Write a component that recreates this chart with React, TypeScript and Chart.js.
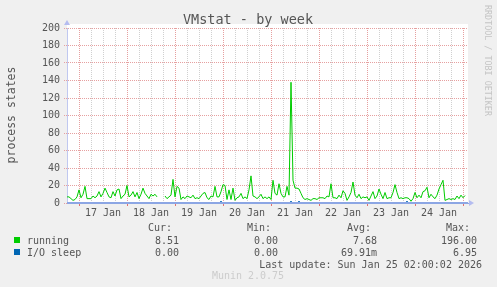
import { useEffect, useRef } from 'react';
import { Chart, registerables } from 'chart.js';

Chart.register(...registerables);

const TITLE = 'VMstat - by week';
const Y_LABEL = 'process states';
const SIDE_TEXT = 'RRDTOOL / TOBI OETIKER';
const FOOTER = 'Munin 2.0.75';
const LAST_UPDATE = 'Last update: Sun Jan 25 02:00:02 2026';

// x axis: hours since Jan 16 18:00; midnights at 6, 30, 54 ...; labels at noon
const DAY_LABELS = ['17 Jan', '18 Jan', '19 Jan', '20 Jan', '21 Jan', '22 Jan', '23 Jan', '24 Jan'];
const Y_TICKS_MAX = 200;

// hourly samples, running processes
const RUNNING: (number | null)[] = [
  7, 7, 5, 3, 4, 7, 15, 6, 10, 19,
  5, 5, 5, 8, 6, 8, 13, 7, 11, 17,
  12, 7, 6, 13, 8, 15, 16, 5, 8, 10,
  20, 7, 9, 13, 7, 12, 5, 10, 17, 11,
  8, 5, 10, 8, 10, 7, null, null, null, 8,
  5, 7, 9, 27, 7, 19, 17, 4, 7, 5,
  8, 7, 6, 9, 5, 6, 5, 8, 11, 12,
  6, 4, 8, 7, 19, 7, 7, 13, 21, 20,
  4, 15, 4, 17, 3, 6, 7, 11, 5, 7,
  5, 15, 31, 8, 7, 5, 7, 10, 5, 7,
  5, 7, 4, 26, 11, 9, 22, 11, 7, 7,
  19, 9, 138, 26, 17, 17, 16, 11, 6, 4,
  5, 4, 3, 5, 5, 4, 6, 6, 6, 5,
  8, 7, 22, 6, 6, 5, 9, 6, 14, 11,
  3, 7, 12, 24, 9, 6, 10, 5, 7, 6,
  7, 3, 8, 13, 5, 8, 16, 10, 5, 12,
  5, 6, 6, 12, 21, 12, 5, 6, 5, 6,
  6, 5, 2, 5, 12, 6, 9, 6, 13, 14,
  18, 6, 10, 7, 5, 9, 16, 21, 26, 3,
  4, 5, 4, 5, 4, 8, 5, 9, 6, 8.51,
];

// hourly samples, processes in I/O sleep
const IO_SLEEP: (number | null)[] = [
  0, 0, 0, 0, 0, 0, 0, 0, 0, 0,
  0, 0, 0, 0, 0, 0, 0, 0, 0, 0,
  0, 0, 0, 0, 0, 0, 0, 0, 0, 0,
  0, 0, 0, 0, 0, 0, 0, 0, 0, 0,
  0, 0, 0, 0, 0, 0, null, null, null, 0,
  0, 0, 0, 0, 0, 0, 0, 0, 0, 0,
  0, 0, 0, 0, 0, 0, 0, 0, 0, 0,
  0, 0, 0, 0, 0, 0, 0, 2, 0, 0,
  0, 0, 0, 0, 0, 0, 0, 0, 0, 0,
  0, 0, 0, 0, 0, 0, 0, 0, 0, 0,
  0, 0, 0, 0, 0, 0, 0, 0, 0, 0,
  0, 0, 2, 0, 0, 0, 2, 0, 0, 0,
  0, 0, 0, 0, 0, 0, 0, 0, 0, 0,
  0, 0, 0, 0, 0, 0, 0, 0, 0, 0,
  0, 0, 0, 0, 0, 0, 0, 0, 0, 0,
  0, 0, 0, 0, 0, 0, 0, 0, 0, 0,
  0, 0, 0, 0, 0, 0, 0, 0, 0, 0,
  2, 0, 0, 0, 0, 0, 0, 0, 0, 0,
  0, 0, 0, 0, 0, 0, 0, 0, 0, 0,
  0, 0, 0, 0, 0, 0, 0, 0, 0, 0,
];

const HOURS = RUNNING.map((_, i) => i);

const SERIES_NAMES = ['running', 'I/O sleep'];
const SERIES_COLORS = ['#00cc00', '#0066b3'];
const LEGEND_HEAD = ['Cur:', 'Min:', 'Avg:', 'Max:'];
const LEGEND_VALUES = [
  ['8.51', '0.00', '7.68', '196.00'],
  ['0.00', '0.00', '69.91m', '6.95'],
];

const MONO = '"DejaVu Sans Mono", monospace';
const TEXT = '#555555';
const RED_GRID = '#e6a0a0';
const GREY_GRID = '#d0d0d0';
const AXIS_BLUE = '#8ca6e4';

const decorPlugin = {
  id: 'muninDecor',
  beforeDraw(chart: any) {
    const { ctx, chartArea: a } = chart;
    ctx.save();
    ctx.fillStyle = '#f0f0f0';
    ctx.fillRect(0, 0, chart.width, chart.height);
    ctx.fillStyle = '#ffffff';
    ctx.fillRect(a.left, a.top - 4, a.right - a.left, a.bottom - a.top + 4);
    ctx.restore();
  },
  afterDatasetsDraw(chart: any) {
    const { ctx, chartArea: a } = chart;
    ctx.save();
    ctx.fillStyle = AXIS_BLUE;
    ctx.fillRect(a.left, a.bottom - 1, a.right - a.left, 2);
    ctx.restore();
  },
  afterDraw(chart: any) {
    const { ctx, chartArea: a } = chart;
    ctx.save();
    // title
    ctx.fillStyle = TEXT;
    ctx.font = `13.5px ${MONO}`;
    ctx.textAlign = 'center';
    ctx.textBaseline = 'alphabetic';
    ctx.fillText(TITLE, 248, 24);
    // y label
    ctx.save();
    ctx.translate(15, 115);
    ctx.rotate(-Math.PI / 2);
    ctx.font = `11.5px ${MONO}`;
    ctx.textAlign = 'center';
    ctx.fillText(Y_LABEL, 0, 0);
    ctx.restore();
    // side text
    ctx.save();
    ctx.translate(485, 5);
    ctx.rotate(Math.PI / 2);
    ctx.font = `8.4px ${MONO}`;
    ctx.fillStyle = '#c4c4c4';
    ctx.textAlign = 'left';
    ctx.fillText(SIDE_TEXT, 0, 0);
    ctx.restore();
    // arrows
    ctx.fillStyle = '#b4bcf0';
    ctx.beginPath();
    ctx.moveTo(a.left - 3, a.top - 3);
    ctx.lineTo(a.left + 3, a.top - 3);
    ctx.lineTo(a.left, a.top - 8);
    ctx.closePath();
    ctx.fill();
    ctx.beginPath();
    ctx.moveTo(a.right + 1, a.bottom - 3);
    ctx.lineTo(a.right + 1, a.bottom + 3);
    ctx.lineTo(a.right + 6, a.bottom);
    ctx.closePath();
    ctx.fill();
    // legend
    ctx.font = `10px ${MONO}`;
    ctx.fillStyle = TEXT;
    const headRight = [172, 271, 371, 470];
    const valRight = [179, 278, 377, 477];
    ctx.textAlign = 'right';
    LEGEND_HEAD.forEach((h, i) => ctx.fillText(h, headRight[i], 231));
    const rowBase = [243.5, 255.5];
    SERIES_NAMES.forEach((name, r) => {
      ctx.fillStyle = SERIES_COLORS[r];
      ctx.fillRect(14, rowBase[r] - 6.5, 6, 6);
      ctx.fillStyle = TEXT;
      ctx.textAlign = 'left';
      ctx.fillText(name, 27, rowBase[r]);
      ctx.textAlign = 'right';
      LEGEND_VALUES[r].forEach((v, i) => ctx.fillText(v, valRight[i], rowBase[r]));
    });
    ctx.textAlign = 'right';
    ctx.fillText(LAST_UPDATE, 482, 267.5);
    ctx.textAlign = 'center';
    ctx.fillStyle = '#cccccc';
    ctx.fillText(FOOTER, 248, 279);
    ctx.restore();
  },
};

export default function App() {
  const ref = useRef<HTMLCanvasElement>(null);

  useEffect(() => {
    document.body.style.margin = '0';
    const canvas = ref.current!;
    const chart = new Chart(canvas, {
      type: 'line',
      data: {
        labels: HOURS,
        datasets: [
          {
            label: SERIES_NAMES[0],
            data: RUNNING,
            borderColor: SERIES_COLORS[0],
            borderWidth: 1,
            pointRadius: 0,
            tension: 0,
            spanGaps: false,
            clip: false as any,
          },
          {
            label: SERIES_NAMES[1],
            data: IO_SLEEP,
            borderColor: SERIES_COLORS[1],
            borderWidth: 1,
            pointRadius: 0,
            tension: 0,
            spanGaps: false,
            clip: false as any,
          },
        ],
      },
      options: {
        animation: false,
        responsive: false,
        devicePixelRatio: 1,
        events: [],
        layout: { padding: { left: 0, top: 28, right: 29, bottom: 0 } },
        plugins: {
          legend: { display: false },
          title: { display: false },
          tooltip: { enabled: false },
        },
        scales: {
          x: {
            type: 'linear',
            min: 0,
            max: 200.5,
            afterBuildTicks: (scale: any) => {
              const t = [];
              for (let v = 0; v <= 198; v += 6) t.push({ value: v });
              scale.ticks = t;
            },
            afterFit: (scale: any) => {
              scale.height = 84;
            },
            ticks: {
              autoSkip: false,
              maxRotation: 0,
              minRotation: 0,
              padding: 1,
              color: TEXT,
              font: { family: MONO, size: 10 },
              callback: (value: any) => {
                const i = (Number(value) - 18) / 24;
                return Number.isInteger(i) && DAY_LABELS[i] ? DAY_LABELS[i] : '';
              },
            },
            grid: {
              drawTicks: true,
              tickLength: 3,
              color: (c: any) => {
                const v = c.tick ? c.tick.value : 0;
                if (v === 0) return 'rgba(0,0,0,0)';
                return (v - 6) % 24 === 0 ? RED_GRID : GREY_GRID;
              },
              tickColor: (c: any) => {
                const v = c.tick ? c.tick.value : 0;
                return v !== 0 && (v - 6) % 24 === 0 ? '#e07070' : 'rgba(0,0,0,0)';
              },
            },
            border: { display: true, color: AXIS_BLUE, width: 1, dash: [1, 1] },
          },
          y: {
            type: 'linear',
            min: 0,
            max: Y_TICKS_MAX,
            afterFit: (scale: any) => {
              scale.width = 67;
            },
            ticks: {
              stepSize: 10,
              padding: 4,
              color: TEXT,
              font: { family: MONO, size: 10 },
              callback: (value: any) => (Number(value) % 20 === 0 ? String(value) : ''),
            },
            grid: {
              drawTicks: true,
              tickLength: 3,
              color: (c: any) => {
                const v = c.tick ? c.tick.value : 0;
                if (v === 0) return 'rgba(0,0,0,0)';
                return v % 20 === 0 ? RED_GRID : GREY_GRID;
              },
              tickColor: (c: any) => {
                const v = c.tick ? c.tick.value : 0;
                return v % 20 === 0 ? RED_GRID : 'rgba(0,0,0,0)';
              },
              tickBorderDash: [1, 1],
            },
            border: { display: true, color: '#c0c8f0', width: 1, dash: [1, 1] },
          },
        },
      },
      plugins: [decorPlugin],
    });
    return () => chart.destroy();
  }, []);

  return (
    <div style={{ position: 'fixed', left: 0, top: 0, width: 497, height: 287, background: '#f0f0f0' }}>
      <canvas ref={ref} width={497} height={287} style={{ display: 'block', width: 497, height: 287 }} />
    </div>
  );
}
